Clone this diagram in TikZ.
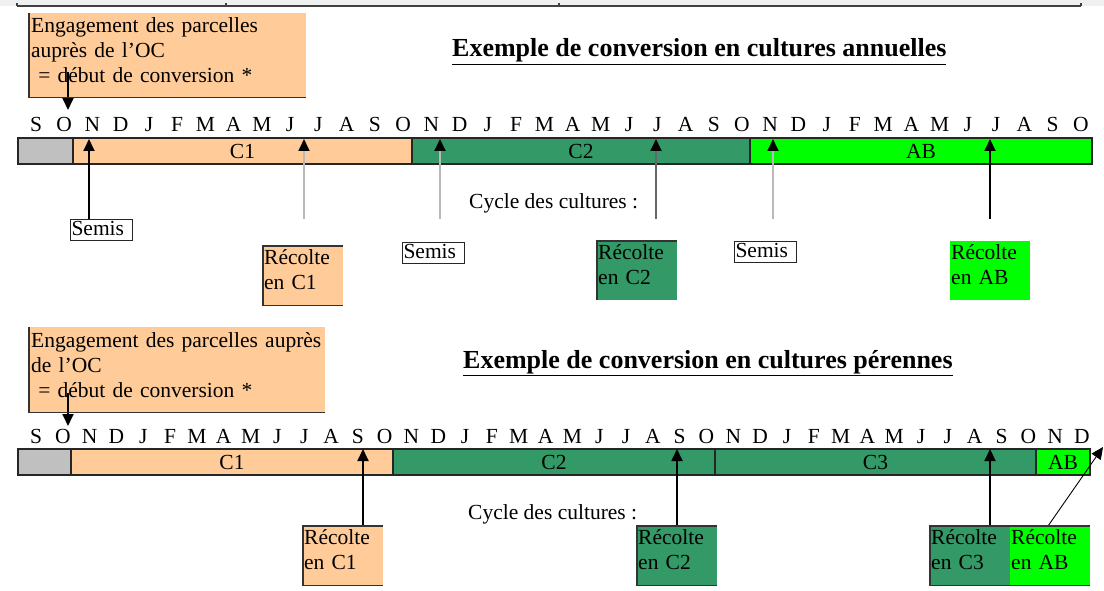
\documentclass[tikz,border=0pt]{standalone}
\usepackage{fontspec}
\setmainfont{Liberation Serif}
\usetikzlibrary{arrows.meta}
\definecolor{peach}{RGB}{255,204,153}
\definecolor{vertC}{RGB}{51,153,102}
\definecolor{vertAB}{RGB}{0,255,0}
\definecolor{grisC}{RGB}{192,192,192}
\newcommand{\txt}{\fontsize{21.5}{25}\selectfont}
\tikzset{
  month/.style={font=\txt, anchor=base, inner sep=0pt},
  seg/.style={draw=black!85, line width=1.3pt, minimum height=26pt, inner sep=0pt, font=\txt},
  note/.style={anchor=north west, fill=peach, align=left, font=\txt, inner xsep=2pt, inner ysep=0pt},
  recolte/.style={anchor=north west, fill=#1, align=left, font=\txt, inner xsep=1pt, inner ysep=0pt,
    text width=78pt, text height=18pt, text depth=41pt},
  semis/.style={anchor=north west, draw=black!85, line width=1pt, font=\txt, inner xsep=1pt, inner ysep=0pt,
    text width=60pt, text height=16pt, text depth=5pt},
  titre/.style={font=\fontsize{26}{30}\selectfont\bfseries, anchor=base west, inner sep=0pt},
  fleche/.style={-{Triangle[width=11pt,length=12pt,color=black]}, line width=1.8pt},
  bord/.style={draw=black!80, line width=1.3pt}
}
\begin{document}
\begin{tikzpicture}[x=1pt, y=-1pt]
    \useasboundingbox (0,0) rectangle (1104,591);
    % bord du tableau au-dessus
    \fill[gray!12] (0,0) rectangle (1104,6);
    \draw[line width=1.2pt, black!75] (17,6) -- (1081,6);
    \foreach \x in {17,226,559,1081} \draw[line width=1.2pt, black!75] (\x,6) -- (\x,3);

    %%% cultures annuelles
    \node[note, text width=273pt, text height=19pt, text depth=65pt] (eng1) at (29,13)
        {Engagement des parcelles\\auprès de l’OC\\~= début de conversion *};
    \node[titre] (tit1) at (452,57) {\underline{Exemple de conversion en cultures annuelles}};
    \foreach \m [count=\i from 0] in {S,O,N,D,J,F,M,A,M,J,J,A,S,O,N,D,J,F,M,A,M,J,J,A,S,O,N,D,J,F,M,A,M,J,J,A,S,O}
        \node[month] (tm\i) at (36+\i*28.24,132) {\m};
    \foreach \a/\b/\c/\t [count=\i] in {18/73/grisC/,73/412/peach/C1,412/750/vertC/C2,750/1092/vertAB/AB}
        \node[seg, fill=\c, minimum width={\b-\a}] (ts\i) at ({(\a+\b)/2},151) {\t};
    \node[font=\txt, anchor=base west, inner sep=0pt] (cyc1) at (469,208) {Cycle des cultures :};
    \node[semis] (s1) at (70,219) {Semis};
    \node[recolte=peach] (rc1) at (263,246) {Récolte\\en C1};
    \node[semis] (s2) at (402,242) {Semis};
    \node[recolte=vertC] (rc2) at (597,241) {Récolte\\en C2};
    \node[semis] (s3) at (734,241) {Semis};
    \node[recolte=vertAB] (rab) at (950,241) {Récolte\\en AB};
    \draw[fleche] (68,72) -- (68,110);
    \draw[fleche] (s1.north -| 89,0) -- (89,139);
    \draw[fleche, gray!55] (304,219) -- (304,139);
    \draw[fleche, gray!55] (440,219) -- (440,139);
    \draw[fleche, black!60] (656,219) -- (656,139);
    \draw[fleche, gray!55] (773,219) -- (773,139);
    \draw[fleche] (990,219) -- (990,139);

    %%% cultures perennes
    \node[note, text width=292pt, text height=20pt, text depth=65pt] (eng2) at (29,327)
        {Engagement des parcelles auprès\\de l’OC\\~= début de conversion *};
    \node[titre] (tit2) at (463,368) {\underline{Exemple de conversion en cultures pérennes}};
    \foreach \m [count=\i from 0] in {S,O,N,D,J,F,M,A,M,J,J,A,S,O,N,D,J,F,M,A,M,J,J,A,S,O,N,D,J,F,M,A,M,J,J,A,S,O,N,D}
        \node[month] (bm\i) at (36+\i*26.82,443) {\m};
    \foreach \a/\b/\c/\t [count=\i] in {18/71/grisC/,71/393/peach/C1,393/715/vertC/C2,715/1036/vertC/C3,1036/1090/vertAB/AB}
        \node[seg, fill=\c, minimum width={\b-\a}] (bs\i) at ({(\a+\b)/2},462) {\t};
    \node[font=\txt, anchor=base west, inner sep=0pt] (cyc2) at (468,519) {Cycle des cultures :};
    \node[recolte=peach] (pc1) at (303,526) {Récolte\\en C1};
    \node[recolte=vertC] (pc2) at (637,526) {Récolte\\en C2};
    \node[recolte=vertC] (pc3) at (930,526) {Récolte\\en C3};
    \node[recolte=vertAB] (pab) at (1010,526) {Récolte\\en AB};
    \draw[fleche] (68,393) -- (68,426);
    \draw[fleche] (pc1.north -| 363,0) -- (363,449);
    \draw[fleche] (pc2.north -| 677,0) -- (677,449);
    \draw[fleche] (pc3.north -| 990,0) -- (990,449);
    \draw[-{Triangle[width=11pt,length=12pt]}, line width=0.9pt] (pab.north -| 1048,0) -- (1103,447);

    % bords des cadres
    \foreach \n in {eng1,eng2} \draw[bord] (\n.north west) -- (\n.south west) -- (\n.south east);
    \foreach \n in {rc1,pc1,pc2} \draw[bord] (\n.north east) -- (\n.north west) -- (\n.south west) -- (\n.south east);
    \draw[bord] (rc2.south west) -- (rc2.north west) -- (rc2.north east);
    \draw[bord] (pab.north east) -- (pc3.north west) -- (pc3.south west) -- (pab.south east);
\end{tikzpicture}
\end{document}
